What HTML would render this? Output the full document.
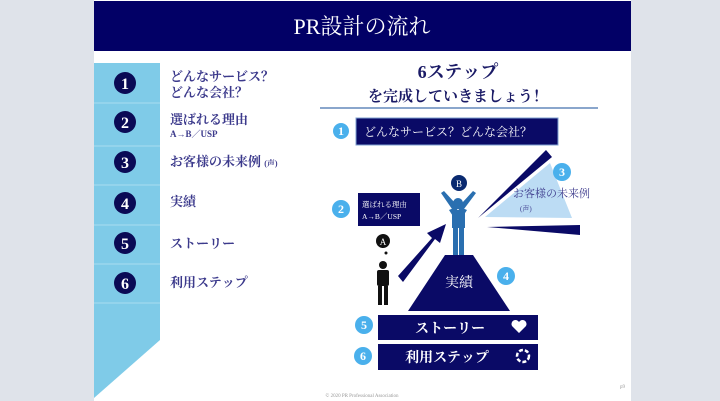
<!DOCTYPE html>
<html><head><meta charset="utf-8"><style>
html,body{margin:0;padding:0;width:720px;height:401px;overflow:hidden;background:#dfe3ea;}
svg{display:block}
text{font-family:"Liberation Serif","Noto Serif CJK SC",serif;}
</style></head><body>
<svg width="720" height="401" viewBox="0 0 720 401" xmlns="http://www.w3.org/2000/svg">
<rect x="94" y="0" width="537" height="401" fill="#ffffff"/>
<rect x="94" y="1" width="537" height="50" fill="#020066"/>
<text x="362" y="34" fill="#fff" font-size="22" text-anchor="middle">PR設計の流れ</text>
<!-- left band -->
<polygon points="94,63 160,63 160,340 94,398" fill="#7fcbe8"/>
<g stroke="#a8dcef" stroke-width="1">
<line x1="94" y1="103" x2="160" y2="103"/><line x1="94" y1="146" x2="160" y2="146"/>
<line x1="94" y1="185" x2="160" y2="185"/><line x1="94" y1="225" x2="160" y2="225"/>
<line x1="94" y1="264" x2="160" y2="264"/><line x1="94" y1="303" x2="160" y2="303"/>
</g>
<g fill="#0a0a55">
<circle cx="125" cy="83" r="11"/><circle cx="125" cy="122" r="11"/><circle cx="125" cy="162" r="11"/>
<circle cx="125" cy="203" r="11"/><circle cx="125" cy="243" r="11"/><circle cx="125" cy="283" r="11"/>
</g>
<g fill="#fff" font-size="16" font-weight="bold" text-anchor="middle">
<text x="125" y="89">1</text><text x="125" y="128">2</text><text x="125" y="168">3</text>
<text x="125" y="209">4</text><text x="125" y="249">5</text><text x="125" y="289">6</text>
</g>
<g fill="#3c3a8c" font-size="13" font-weight="bold">
<text x="170" y="81">どんなサービス？</text><text x="170" y="97">どんな会社？</text>
<text x="170" y="124">選ばれる理由</text><text x="170" y="137" font-size="9">A→B／USP</text>
<text x="170" y="166">お客様の未来例 <tspan font-size="8">(声)</tspan></text>
<text x="170" y="206">実績</text><text x="170" y="248">ストーリー</text><text x="170" y="287">利用ステップ</text>
</g>
<!-- right title -->
<text x="458" y="78" fill="#1a1a66" font-size="18" font-weight="bold" text-anchor="middle">6ステップ</text>
<text x="458" y="101" fill="#1a1a66" font-size="15" font-weight="bold" text-anchor="middle">を完成していきましょう！</text>
<line x1="320" y1="108" x2="598" y2="108" stroke="#8aa6cc" stroke-width="2"/>
<!-- box1 -->
<rect x="356" y="118" width="202" height="27" fill="#0a0a66" stroke="#7fa0d0" stroke-width="1"/>
<text x="364" y="136" fill="#fff" font-size="12">どんなサービス？どんな会社？</text>
<!-- spotlight -->
<polygon points="485,217 550,163 572,218" fill="#bcdcf4"/>
<polygon points="478,218 546,150 552,157" fill="#0a0a66"/>
<polygon points="487,227 580,225 580,235" fill="#0a0a66"/>
<text x="513" y="197" fill="#3c3a8c" font-size="11">お客様の未来例</text>
<text x="520" y="211" fill="#3c3a8c" font-size="7">(声)</text>
<!-- box2 -->
<rect x="358" y="193" width="62" height="33" fill="#0a0a66"/>
<text x="362" y="207" fill="#fff" font-size="7.5">選ばれる理由</text>
<text x="362" y="219" fill="#fff" font-size="7.5">A→B／USP</text>
<!-- arrow -->
<polygon points="398,276 432,238 427,233 446,224 440,243 435,239 403,282" fill="#0a0a66"/>
<!-- mountain -->
<polygon points="445,255 473,255 510,311 408,311" fill="#0a0a66"/>
<text x="459" y="287" fill="#fff" font-size="14" text-anchor="middle">実績</text>
<!-- person B -->
<circle cx="459" cy="183" r="8" fill="#0a2a70"/>
<text x="459" y="187" fill="#fff" font-size="9" text-anchor="middle">B</text>
<circle cx="458" cy="203" r="5" fill="#2a6fb0"/>
<polygon points="441,193 452,209 464,209 476,193 473,191 462,203 455,203 444,191" fill="#2a6fb0"/>
<path d="M449 210 Q458 206 458 212 Q458 206 467 210 L458 224 Z" fill="#2a6fb0"/>
<rect x="452" y="210" width="13" height="18" fill="#2a6fb0"/>
<rect x="453" y="228" width="5" height="27" fill="#2a6fb0"/><rect x="459" y="228" width="5" height="27" fill="#2a6fb0"/>
<!-- person A -->
<circle cx="383" cy="241" r="7" fill="#111"/>
<text x="383" y="245" fill="#fff" font-size="9" text-anchor="middle">A</text>
<circle cx="386" cy="253" r="1.5" fill="#111"/>
<circle cx="383" cy="265" r="4" fill="#111"/>
<rect x="377" y="270" width="12" height="16" rx="2" fill="#111"/>
<rect x="378" y="286" width="4" height="19" fill="#111"/><rect x="384" y="286" width="4" height="19" fill="#111"/>
<!-- box5/6 -->
<rect x="378" y="315" width="160" height="25" fill="#0a0a66"/>
<text x="450" y="333" fill="#fff" font-size="14" font-weight="bold" text-anchor="middle">ストーリー</text>
<path d="M519 333 L512 326 A3.5 3.5 0 0 1 519 322 A3.5 3.5 0 0 1 526 326 Z" fill="#fff"/>
<rect x="378" y="344" width="160" height="26" fill="#0a0a66"/>
<text x="447" y="362" fill="#fff" font-size="14" font-weight="bold" text-anchor="middle">利用ステップ</text>
<circle cx="523" cy="356" r="6" fill="none" stroke="#fff" stroke-width="2.5" stroke-dasharray="4 2"/>
<!-- blue number circles -->
<g fill="#4ab0ec">
<circle cx="341" cy="131" r="8"/><circle cx="341" cy="209" r="9"/><circle cx="562" cy="172" r="9"/>
<circle cx="506" cy="276" r="9"/><circle cx="364" cy="325" r="9"/><circle cx="363" cy="356" r="9"/>
</g>
<g fill="#fff" font-size="12" font-weight="bold" text-anchor="middle">
<text x="341" y="135">1</text><text x="341" y="213">2</text><text x="562" y="176">3</text>
<text x="506" y="280">4</text><text x="364" y="329">5</text><text x="363" y="360">6</text>
</g>
<text x="362" y="397" fill="#999" font-size="5" text-anchor="middle">© 2020 PR Professional Association</text>
<text x="620" y="388" fill="#999" font-size="5">p9</text>
</svg>
</body></html>
